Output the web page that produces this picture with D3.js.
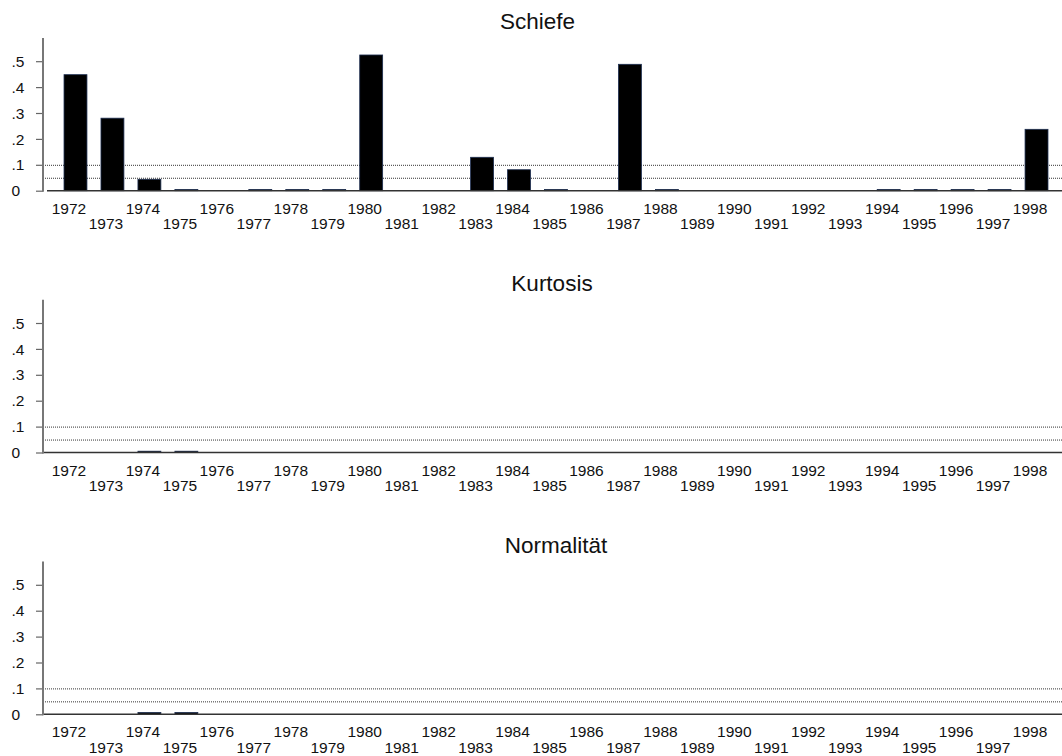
<!DOCTYPE html>
<html>
<head>
<meta charset="utf-8">
<script src="https://cdn.jsdelivr.net/npm/d3@7/dist/d3.min.js"></script>
<style>
  html, body { margin: 0; padding: 0; background: #fff; }
  svg { display: block; font-family: "Liberation Sans", Arial, Helvetica, sans-serif; }
</style>
</head>
<body>
<svg id="chart" width="1062" height="756"></svg>
<script>
// p-values of the yearly tests, 1972–1998
const years = d3.range(1972, 1999);
const panelTitles = ["Schiefe", "Kurtosis", "Normalität"];
const skewness = [0.448, 0.280, 0.044, 0.005, 0, 0.005, 0.005, 0.005, 0.524, 0, 0,
                  0.129, 0.081, 0.005, 0, 0.488, 0.005, 0, 0, 0, 0, 0,
                  0.005, 0.005, 0.005, 0.005, 0.237];
const kurtosis = [0, 0, 0.005, 0.005, 0, 0, 0, 0, 0, 0, 0, 0, 0, 0, 0, 0, 0, 0, 0, 0,
                  0, 0, 0, 0, 0, 0, 0];
const normality = [0, 0, 0.007, 0.007, 0, 0, 0, 0, 0, 0, 0, 0, 0, 0, 0, 0, 0, 0, 0, 0,
                   0, 0, 0, 0, 0, 0, 0];
const yTicks = [0, 0.1, 0.2, 0.3, 0.4, 0.5];
const refLevels = [0.1, 0.05];

const series = [skewness, kurtosis, normality];

// layout
const zeroY = [190.7, 452.5, 714.3];
const titleCenter = [537.5, 552, 556];
const axisX = 43;
const yMax = 0.59;
const unitPx = 259;

const svg = d3.select("#chart");

const x = d3.scaleBand()
  .domain(years)
  .range([57, 1055])
  .paddingInner(0.38)
  .paddingOuter(0.19);

series.forEach((values, p) => {
  const g = svg.append("g");
  const y = d3.scaleLinear()
    .domain([0, 0.5])
    .range([zeroY[p], zeroY[p] - 0.5 * unitPx]);

  // title
  g.append("text")
    .attr("x", titleCenter[p])
    .attr("y", zeroY[p] - 161.5)
    .attr("text-anchor", "middle")
    .attr("font-size", 22.5)
    .attr("fill", "#111")
    .text(panelTitles[p]);

  // reference lines at 10% and 5%
  g.selectAll("line.ref")
    .data(refLevels)
    .join("line")
    .attr("class", "ref")
    .attr("x1", axisX).attr("x2", 1062)
    .attr("y1", d => y(d) + 0.5).attr("y2", d => y(d) + 0.5)
    .attr("stroke", "#333")
    .attr("stroke-width", 1)
    .attr("stroke-dasharray", "1,1");

  // bars
  g.selectAll("rect.bar")
    .data(years.map((yr, i) => ({ yr, v: values[i] })).filter(d => d.v > 0))
    .join("rect")
    .attr("class", "bar")
    .attr("x", d => x(d.yr))
    .attr("width", x.bandwidth())
    .attr("y", d => y(d.v))
    .attr("height", d => y(0) - y(d.v))
    .attr("fill", "#000")
    .attr("stroke", "#1c2d50")
    .attr("stroke-width", 0.8);

  // baseline
  g.append("line")
    .attr("x1", p === 0 ? 47 : axisX).attr("x2", 1062)
    .attr("y1", y(0)).attr("y2", y(0))
    .attr("stroke", "#333")
    .attr("stroke-width", 1.5);

  // y axis
  const yAxis = d3.axisLeft(y)
    .tickValues(yTicks)
    .tickSize(7)
    .tickSizeOuter(0)
    .tickFormat(d => d === 0 ? "0" : d3.format(".1f")(d).replace(/^0/, ""));
  const ya = g.append("g")
    .attr("transform", `translate(${axisX},0)`)
    .call(yAxis);
  ya.select(".domain").remove();
  ya.selectAll(".tick line").attr("stroke", "#666").attr("stroke-width", 1.2);
  ya.selectAll(".tick text")
    .attr("text-anchor", "start")
    .attr("x", 11.5 - axisX)
    .attr("dy", "0.33em")
    .attr("font-size", 15.5)
    .attr("font-family", null)
    .attr("fill", "#111");
  g.append("line")
    .attr("x1", axisX).attr("x2", axisX)
    .attr("y1", zeroY[p] + 1).attr("y2", zeroY[p] - yMax * unitPx)
    .attr("stroke", "#777")
    .attr("stroke-width", 2);

  // x axis labels in two staggered rows
  const xAxis = d3.axisBottom(x).tickSize(0).tickPadding(0);
  const xa = g.append("g")
    .attr("transform", `translate(0,${zeroY[p]})`)
    .call(xAxis);
  xa.select(".domain").remove();
  xa.selectAll(".tick text")
    .attr("x", -6.5)
    .attr("y", (d, i) => i % 2 === 0 ? 23 : 38.3)
    .attr("dy", 0)
    .attr("font-size", 15.5)
    .attr("font-family", null)
    .attr("fill", "#111");
});
</script>
</body>
</html>
